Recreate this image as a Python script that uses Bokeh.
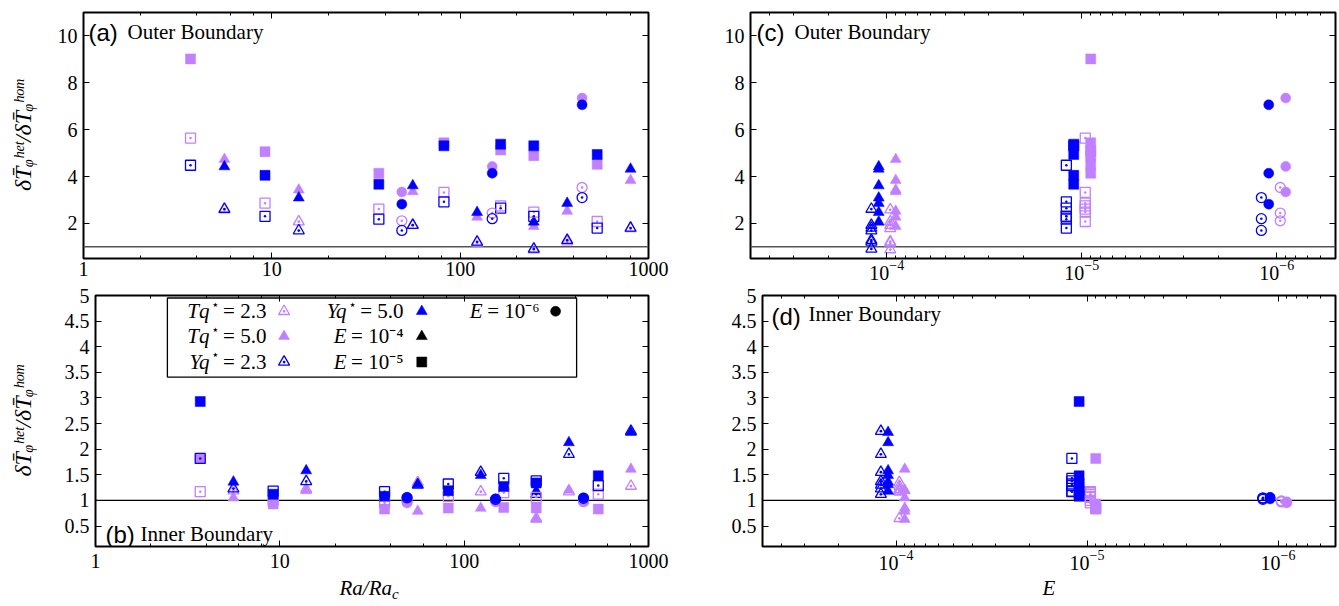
import numpy as np
from bokeh.plotting import figure
from bokeh.models import (Range1d, LinearAxis, LogAxis, Label, Span, LogTicker,
                          FixedTicker, CustomJSTickFormatter, LinearScale, LogTickFormatter)
from bokeh.layouts import column, row
from bokeh.embed import file_html
from bokeh.resources import INLINE
from bokeh.core.properties import value

# ---------------- data ----------------
E_e4, E_e5, E_e6 = 1e-4, 1e-5, 1e-6
ra_e4 = [5.6, 13.9, 56, 123, 246, 370, 803]      # E = 1e-4 runs (triangles)
ra_e5 = [3.7, 9.2, 37, 82, 164, 246, 534]        # E = 1e-5 runs (squares)
ra_e6 = [49, 148, 444]                           # E = 1e-6 runs (circles)

# outer boundary ratio
outer_e4_Tq23 = [2.58, 2.07, 1.92, 1.17, 0.88, 1.22, 1.78]
outer_e4_Tq50 = [4.73, 3.43, 3.36, 2.27, 1.87, 2.52, 3.84]
outer_e4_Yq23 = [2.61, 1.69, 1.92, 1.21, 0.91, 1.28, 1.80]
outer_e4_Yq50 = [4.42, 3.09, 3.61, 2.47, 2.06, 2.86, 4.32]
outer_e5_Tq23 = [5.64, 2.86, 2.61, 3.32, 2.75, 2.48, 2.08]
outer_e5_Tq50 = [9.02, 5.06, 4.14, 5.44, 5.13, 4.89, 4.52]
outer_e5_Yq23 = [4.48, 2.30, 2.18, 2.92, 2.65, 2.30, 1.80]
outer_e5_Yq50 = [np.nan, 4.05, 3.67, 5.31, 5.38, 5.31, 4.94]
outer_e6_Tq23 = [2.11, 2.44, 3.53]
outer_e6_Tq50 = [3.34, 4.43, 7.35]
outer_e6_Yq23 = [1.70, 2.20, 3.10]
outer_e6_Yq50 = [2.82, 4.14, 7.06]

# inner boundary ratio
inner_e4_Tq23 = [1.19, 1.22, 1.35, 1.17, 0.65, 1.17, 1.28]
inner_e4_Tq50 = [1.05, 1.19, 0.79, 0.85, 0.63, 1.20, 1.61]
inner_e4_Yq23 = [1.23, 1.37, 1.30, 1.55, 1.12, 1.90, 2.35]
inner_e4_Yq50 = [1.36, 1.58, 1.31, 1.49, 1.18, 2.13, 2.33]
inner_e5_Tq23 = [1.17, 1.00, 0.95, 1.08, 1.15, 1.06, 1.12]
inner_e5_Tq50 = [1.82, 0.93, 0.83, 0.85, 0.86, 0.85, 0.83]
inner_e5_Yq23 = [1.82, 1.18, 1.17, 1.32, 1.43, 1.38, 1.29]
inner_e5_Yq50 = [2.93, 1.12, 1.08, 1.19, 1.27, 1.34, 1.48]
inner_e6_Tq23 = [0.97, 0.99, 0.98]
inner_e6_Tq50 = [0.95, 0.97, 0.97]
inner_e6_Yq23 = [1.05, 1.02, 1.04]
inner_e6_Yq50 = [1.06, 1.03, 1.05]

outer_yticks = [2, 4, 6, 8, 10]
inner_yticks = [0.5, 1, 1.5, 2, 2.5, 3, 3.5, 4, 4.5, 5]
E_ticks = [1e-4, 1e-5, 1e-6]
E_minor = [k * 10.0 ** e for e in (-7, -6, -5, -4) for k in range(2, 10)]

legend_names = ["Tq", "Tq", "Yq", "Yq", "E", "E", "E"]
legend_star = [True, True, True, True, False, False, False]
legend_values = ["= 2.3", "= 5.0", "= 2.3", "= 5.0", "= 10⁻⁴", "= 10⁻⁵", "= 10⁻⁶"]

# ---------------- styles ----------------
PURPLE = "#C080FF"
BLUE = "#0000FF"
SERIF = "Liberation Serif"
SANS = "Liberation Sans"
SIZE = {"triangle": 11, "square": 10, "circle": 10}
series_style = {"Tq23": (PURPLE, False), "Tq50": (PURPLE, True),
                "Yq23": (BLUE, False), "Yq50": (BLUE, True)}
E_shift = {"Tq23": 0.96, "Tq50": 0.90, "Yq23": 1.2, "Yq50": 1.1}
ORDER = ["Tq23", "Tq50", "Yq23", "Yq50"]

groups = [
    (E_e4, ra_e4, "triangle", {"Tq23": (outer_e4_Tq23, inner_e4_Tq23), "Tq50": (outer_e4_Tq50, inner_e4_Tq50),
                               "Yq23": (outer_e4_Yq23, inner_e4_Yq23), "Yq50": (outer_e4_Yq50, inner_e4_Yq50)}),
    (E_e5, ra_e5, "square", {"Tq23": (outer_e5_Tq23, inner_e5_Tq23), "Tq50": (outer_e5_Tq50, inner_e5_Tq50),
                             "Yq23": (outer_e5_Yq23, inner_e5_Yq23), "Yq50": (outer_e5_Yq50, inner_e5_Yq50)}),
    (E_e6, ra_e6, "circle", {"Tq23": (outer_e6_Tq23, inner_e6_Tq23), "Tq50": (outer_e6_Tq50, inner_e6_Tq50),
                             "Yq23": (outer_e6_Yq23, inner_e6_Yq23), "Yq50": (outer_e6_Yq50, inner_e6_Yq50)}),
]

int_fmt = CustomJSTickFormatter(code="return String(tick);")
blank_fmt = CustomJSTickFormatter(code="return '';")

W_L, W_R = 670, 668
H_TOP, H_BOT, H_STRIP = 284, 292, 29


def make(width, height, bl, br, bt, bb, xr, yr, yticks, kind, xstand):
    p = figure(width=width, height=height, x_axis_type="log", x_range=xr, y_range=yr,
               output_backend="svg", toolbar_location=None,
               min_border_left=bl, min_border_right=br, min_border_top=bt, min_border_bottom=bb)
    p.extra_x_ranges = {"fx": Range1d(0, 1)}
    p.extra_y_ranges = {"fy": Range1d(0, 1)}
    p.extra_x_scales = {"fx": LinearScale()}
    p.extra_y_scales = {"fy": LinearScale()}
    if kind == "ra":
        xt = LogTicker()
        p.xaxis.formatter = int_fmt
    else:
        xt = FixedTicker(ticks=E_ticks, minor_ticks=E_minor)
        p.xaxis.formatter = LogTickFormatter()
    p.xaxis.ticker = xt
    p.yaxis.ticker = FixedTicker(ticks=yticks)
    p.yaxis.formatter = int_fmt
    top = LogAxis(ticker=xt, formatter=blank_fmt)
    right = LinearAxis(ticker=FixedTicker(ticks=yticks), formatter=blank_fmt)
    p.add_layout(top, "above")
    p.add_layout(right, "right")
    for ax in p.axis:
        ax.axis_line_color = None
        ax.major_tick_in = 6
        ax.major_tick_out = 0
        ax.minor_tick_in = 3
        ax.minor_tick_out = 0
        ax.major_tick_line_color = "black"
        ax.minor_tick_line_color = "black"
        ax.major_label_text_font = SERIF
        ax.major_label_text_font_size = "20px"
        ax.major_label_text_color = "black"
    for ax in (top, right):
        ax.major_label_text_font_size = "0px"
        ax.major_label_standoff = 0
    p.left[0].minor_tick_line_color = None
    right.minor_tick_line_color = None
    p.left[0].major_label_standoff = 6
    p.below[0].major_label_standoff = xstand
    p.grid.visible = False
    p.outline_line_color = "black"
    p.outline_line_width = 2
    p.background_fill_color = "white"
    p.border_fill_color = "white"
    return p


def draw(p, which, kind):
    for E, ra, marker, ser in groups:
        for key in ORDER:
            y = np.array(ser[key][which], dtype=float)
            if kind == "ra":
                x = np.array(ra, dtype=float)
            else:
                x = np.full(len(ra), E * E_shift[key])
            color, filled = series_style[key]
            if filled:
                p.scatter(x, y, marker=marker, size=SIZE[marker], fill_color=color,
                          line_color=color, line_width=0.5)
            else:
                p.scatter(x, y, marker=marker + "_dot", size=SIZE[marker], fill_color=None,
                          line_color=color, line_width=1.3)


def unity(p, color):
    p.add_layout(Span(location=1, dimension="width", line_color=color, line_width=1.4, level="underlay"))


def tag(p, letter, title, top, lx, tx, ly, ty):
    yb = 1 if top else 0
    p.add_layout(Label(x=0, y=yb, x_range_name="fx", y_range_name="fy", x_offset=lx, y_offset=ly,
                       text=letter, text_font=SANS, text_font_size="24px", text_baseline="middle",
                       text_color="black"))
    p.add_layout(Label(x=0, y=yb, x_range_name="fx", y_range_name="fy", x_offset=tx, y_offset=ty,
                       text=title, text_font=SERIF, text_font_size="21px", text_baseline="middle",
                       text_color="black"))


YLABEL = "δT̄ᵩʰᵉᵗ/δT̄ᵩʰᵒᵐ"

# ---- (a) ----
pa = make(W_L, H_TOP, 83, 22, 12, 26, Range1d(1, 1000), Range1d(0.5, 11), outer_yticks, "ra", 3)
draw(pa, 0, "ra")
unity(pa, "#555555")
tag(pa, "(a)", "Outer Boundary", True, 5, 44, -20, -19)
pa.left[0].axis_label = YLABEL

# ---- (c) ----
pc = make(W_R, H_TOP, 80, 3, 12, 26, Range1d(5e-4, 5e-7), Range1d(0.5, 11), outer_yticks, "E", 1)
draw(pc, 0, "E")
unity(pc, "#555555")
tag(pc, "(c)", "Outer Boundary", True, 6, 44, -20, -19)

# ---- (b) ----
pb = make(W_L, H_BOT, 95, 22, 11, 30, Range1d(1, 1000), Range1d(0.1, 5), inner_yticks, "ra", 7)
draw(pb, 1, "ra")
unity(pb, "black")
tag(pb, "(b)", "Inner Boundary", False, 10, 45, 12, 13)
pb.left[0].axis_label = YLABEL

# legend of (b), placed in fractions of the frame
pb.quad(left=[0.130], right=[0.870], bottom=[0.675], top=[0.990], x_range_name="fx", y_range_name="fy",
        fill_color="white", line_color="black", line_width=1.3)
lx_text = [0.309, 0.309, 0.309, 0.557, 0.557, 0.557, 0.803]
ly_row = [0.937, 0.837, 0.735, 0.937, 0.837, 0.735, 0.937]
val_w = [43 if v.endswith(("3", "0")) else 51 for v in legend_values]
pb.text(x=lx_text, y=ly_row, text=legend_values, x_range_name="fx", y_range_name="fy",
        text_font=value(SERIF), text_font_size="21px", text_align="right", text_baseline="middle",
        text_color="black")
star_x = [x for x, s in zip(lx_text, legend_star) if s]
star_y = [y + 0.028 for y, s in zip(ly_row, legend_star) if s]
star_off = [-(w + 4) for w, s in zip(val_w, legend_star) if s]
pb.text(x=star_x, y=star_y, text=["⋆"] * len(star_x), x_offset=star_off, x_range_name="fx",
        y_range_name="fy", text_font=value("DejaVu Sans"), text_font_size="13px", text_align="right",
        text_baseline="middle", text_color="black")
name_off = [-(w + 4 + (10 if s else 2)) for w, s in zip(val_w, legend_star)]
pb.text(x=lx_text, y=ly_row, text=legend_names, x_offset=name_off, x_range_name="fx", y_range_name="fy",
        text_font=value(SERIF), text_font_style="italic", text_font_size="21px", text_align="right",
        text_baseline="middle", text_color="black")
leg_marks = [
    (0.341, 0.937, "triangle_dot", PURPLE, False),
    (0.341, 0.837, "triangle", PURPLE, True),
    (0.341, 0.735, "triangle_dot", BLUE, False),
    (0.590, 0.937, "triangle", BLUE, True),
    (0.590, 0.837, "triangle", "black", True),
    (0.590, 0.735, "square", "black", True),
    (0.832, 0.937, "circle", "black", True),
]
for mx, my, mk, col, filled in leg_marks:
    base = mk.replace("_dot", "")
    pb.scatter([mx], [my], marker=mk, size=SIZE[base], x_range_name="fx", y_range_name="fy",
               fill_color=col if filled else None, line_color=col, line_width=0.5 if filled else 1.3)

# ---- (d) ----
pd_ = make(W_R, H_BOT, 92, 3, 11, 30, Range1d(5e-4, 5e-7), Range1d(0.1, 5), inner_yticks, "E", 3)
draw(pd_, 1, "E")
unity(pd_, "black")
tag(pd_, "(d)", "Inner Boundary", True, 9, 46, -21, -18)

for p, sd in ((pa, 19), (pb, 26)):
    ax = p.left[0]
    ax.axis_label_text_font = SERIF
    ax.axis_label_text_font_style = "italic"
    ax.axis_label_text_font_size = "24px"
    ax.axis_label_text_color = "black"
    ax.axis_label_standoff = sd


# ---- x-axis titles in thin strips under the bottom panels ----
def strip(width):
    s = figure(width=width, height=H_STRIP, x_range=Range1d(0, 1), y_range=Range1d(0, 1),
               output_backend="svg", toolbar_location=None, x_axis_location=None, y_axis_location=None,
               min_border=0)
    s.grid.visible = False
    s.outline_line_color = None
    s.background_fill_color = "white"
    s.border_fill_color = "white"
    return s


cb = (95 + (W_L - 22)) / 2 / W_L
cd = (92 + (W_R - 3)) / 2 / W_R
sb = strip(W_L)
sb.text(x=[cb], y=[0.60], text=["Ra/Ra"], x_offset=[20], text_font=value(SERIF), text_font_style="italic",
        text_font_size="21px", text_align="right", text_baseline="middle", text_color="black")
sb.text(x=[cb], y=[0.40], text=["c"], x_offset=[20], text_font=value(SERIF), text_font_style="italic",
        text_font_size="15px", text_align="left", text_baseline="middle", text_color="black")
sd_ = strip(W_R)
sd_.text(x=[cd], y=[0.62], text=["E"], text_font=value(SERIF), text_font_style="italic",
         text_font_size="21px", text_align="center", text_baseline="middle", text_color="black")

layout = column(row(pa, pc), row(pb, pd_), row(sb, sd_))
open("out.html", "w", encoding="utf-8").write(file_html(layout, INLINE))
